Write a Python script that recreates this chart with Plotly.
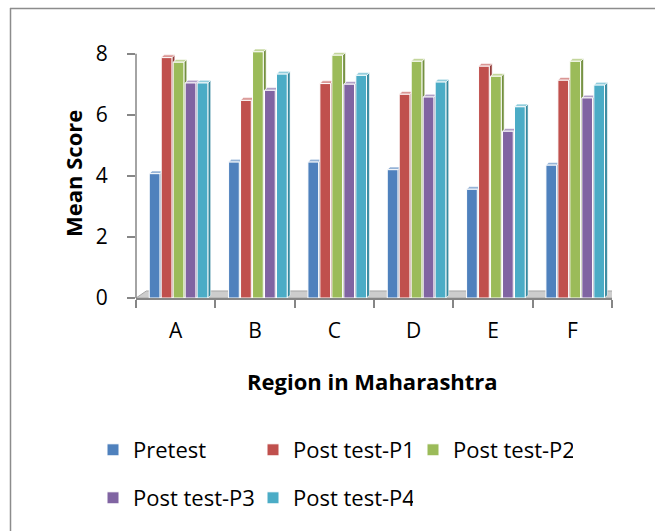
import plotly.graph_objects as go

# ---- data -------------------------------------------------------------
regions = ["A", "B", "C", "D", "E", "F"]
pretest = [4.07, 4.45, 4.45, 4.20, 3.56, 4.35]
post_p1 = [7.87, 6.47, 7.02, 6.67, 7.59, 7.13]
post_p2 = [7.72, 8.06, 7.95, 7.75, 7.26, 7.75]
post_p3 = [7.04, 6.80, 7.00, 6.58, 5.46, 6.55]
post_p4 = [7.04, 7.33, 7.29, 7.07, 6.26, 6.97]

series_names = ["Pretest", "Post test-P1", "Post test-P2", "Post test-P3", "Post test-P4"]
series_values = [pretest, post_p1, post_p2, post_p3, post_p4]
y_ticks = [0, 2, 4, 6, 8]

# ---- styling ----------------------------------------------------------
front = ["#4F81BD", "#C0504D", "#9BBB59", "#8064A2", "#4BACC6"]
side = ["#3A6291", "#933C39", "#74903F", "#5F4A7B", "#35889E"]
top = ["#95B3D7", "#DA9694", "#C3D69B", "#B1A0C7", "#92CDDC"]

FONT = "Open Sans"
FS = 22
W, H = 655, 531
ML, MR, MT, MB = 136, 43, 46, 233
Y_MAX = 8.25

bar_w = 0.135          # front-face width (category units)
bar_step = 0.151       # spacing between neighbouring series
first_off = -0.333     # left edge of first series relative to category centre
dx, dy = 0.036, 0.09   # depth of the pseudo-3D faces
floor_dx, floor_dy = 0.13, 0.23

pw = W - ML - MR
ph = H - MT - MB


def px_x(px):
    return (px - ML) / pw


def px_y(py):
    return (H - MB - py) / ph


fig = go.Figure()
shapes = []

# floor plate
n = len(regions)
shapes.append(dict(
    type="path", xref="x", yref="y", layer="below",
    path=f"M{-0.5},0 L{n - 0.5},0 L{n - 0.5 + floor_dx},{floor_dy} L{-0.5 + floor_dx},{floor_dy} Z",
    fillcolor="#CDCDCD", line=dict(color="#A6A6A6", width=1),
))

for i, (name, vals) in enumerate(zip(series_names, series_values)):
    off = first_off + i * bar_step
    fig.add_trace(go.Bar(
        name=name, x=regions, y=vals,
        offset=off, width=bar_w,
        marker=dict(color=front[i], line=dict(color="white", width=1)),
        legend="legend" if i < 3 else "legend2",
        hoverinfo="x+y+name",
    ))
    for k, v in enumerate(vals):
        x0 = k + off
        x1 = x0 + bar_w
        # right-hand side face
        shapes.append(dict(
            type="path", xref="x", yref="y", layer="below",
            path=f"M{x1},0 L{x1},{v} L{x1 + dx},{v + dy} L{x1 + dx},{dy} Z",
            fillcolor=side[i], line=dict(color="white", width=0.6),
        ))
        # top face
        shapes.append(dict(
            type="path", xref="x", yref="y", layer="below",
            path=f"M{x0},{v} L{x1},{v} L{x1 + dx},{v + dy} L{x0 + dx},{v + dy} Z",
            fillcolor=top[i], line=dict(color="white", width=0.6),
        ))

# value axis line (up to the top tick only)
shapes.append(dict(type="line", xref="paper", yref="y", x0=0, x1=0, y0=0, y1=y_ticks[-1],
                   line=dict(color="#868686", width=1.5)))

# chart frame (top and left edges)
shapes.append(dict(type="line", xref="paper", yref="paper",
                   x0=px_x(10), x1=px_x(W + 5), y0=px_y(8.5), y1=px_y(8.5),
                   line=dict(color="#8C8C8C", width=1.5)))
shapes.append(dict(type="line", xref="paper", yref="paper",
                   x0=px_x(10.5), x1=px_x(10.5), y0=px_y(8), y1=px_y(H + 5),
                   line=dict(color="#8C8C8C", width=1.5)))

annotations = [
    dict(text="<b>Region in Maharashtra</b>", xref="paper", yref="paper",
         x=px_x(372), y=px_y(381), xanchor="center", yanchor="middle", showarrow=False,
         font=dict(family=FONT, size=FS, color="black")),
    dict(text="<b>Mean Score</b>", xref="paper", yref="paper",
         x=px_x(73), y=px_y(174), xanchor="center", yanchor="middle", showarrow=False,
         textangle=-90, font=dict(family=FONT, size=FS, color="black")),
]

legend_font = dict(family=FONT, size=FS, color="black")
legend_common = dict(orientation="h", xanchor="left", yanchor="middle",
                     entrywidth=115, entrywidthmode="pixels", font=legend_font,
                     bgcolor="rgba(0,0,0,0)", traceorder="normal", itemwidth=30)
fig.update_layout(
    width=W, height=H,
    margin=dict(l=ML, r=MR, t=MT, b=MB),
    paper_bgcolor="white", plot_bgcolor="white",
    barmode="overlay",
    shapes=shapes, annotations=annotations,
    font=dict(family=FONT, size=FS, color="black"),
    legend=dict(x=px_x(93), y=px_y(450), **legend_common),
    legend2=dict(x=px_x(93), y=px_y(498), **legend_common),
    xaxis=dict(type="category", categoryorder="array", categoryarray=regions,
               range=[-0.5, n - 0.5], showline=True, linecolor="#868686", linewidth=1.5,
               ticks="outside", tickson="boundaries", ticklen=8, tickcolor="#868686",
               tickwidth=1.5, showgrid=False, zeroline=False, ticklabelstandoff=13,
               tickfont=dict(family=FONT, size=FS - 1, color="black")),
    yaxis=dict(range=[0, Y_MAX], tickvals=y_ticks, showline=False, ticks="outside",
               ticklen=8, tickcolor="#868686", tickwidth=1.5, showgrid=False,
               zeroline=False, ticklabelstandoff=15,
               tickfont=dict(family=FONT, size=FS - 1, color="black")),
)

fig.write_html("out.html")
